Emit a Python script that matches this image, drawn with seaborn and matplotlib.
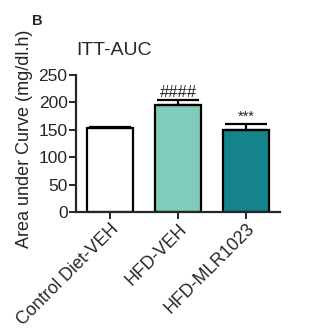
import matplotlib
matplotlib.use("Agg")
import matplotlib.pyplot as plt
import seaborn as sns
import pandas as pd

categories = ["Control Diet-VEH", "HFD-VEH", "HFD-MLR1023"]
means = [153, 195, 150]
sems = [3, 9, 10]
marks = ["", "####", "***"]
mark_sizes = [10, 12, 10.5]
colors = ["#FFFFFF", "#7ECCB9", "#14838C"]
yticks = [0, 50, 100, 150, 200, 250]

sns.set_style("ticks")
plt.rcParams['font.family'] = ['Liberation Sans', 'DejaVu Sans']

df = pd.DataFrame({"group": categories, "auc": means})

fig = plt.figure(figsize=(3.23, 3.33), dpi=100)
ax = fig.add_axes([0.235, 0.363, 0.632, 0.412])

sns.barplot(data=df, x="group", y="auc", hue="group", palette=colors,
            edgecolor="black", linewidth=1.6, width=0.68, legend=False, ax=ax,
            errorbar=None, saturation=1)

ax.errorbar(range(len(categories)), means, yerr=[[0]*3, sems], fmt="none",
            ecolor="black", elinewidth=1.6, capsize=15, capthick=1.6)

for i, (m, s, t, fs) in enumerate(zip(means, sems, marks, mark_sizes)):
    if t:
        ax.text(i, m + s + 0.5, t, ha="center", va="bottom", fontsize=fs)

ax.set_xlim(-0.5, 2.5)
ax.set_ylim(0, 250)
ax.set_yticks(yticks)
ax.set_xlabel("")
ax.set_ylabel("Area under Curve (mg/dl.h)", fontsize=13)
ax.yaxis.set_label_coords(-0.21, 0.533)
ax.set_title("ITT-AUC", fontsize=14, loc="left", x=0.0, pad=14)
ax.tick_params(axis="both", labelsize=12.5, width=1.4, length=5, pad=1)
ax.set_xticks(range(len(categories)))
ax.set_xticklabels(categories, rotation=45, ha="right", rotation_mode="anchor", fontsize=12.8)
for sp in ["left", "bottom"]:
    ax.spines[sp].set_linewidth(1.6)
sns.despine(ax=ax)

fig.text(0.098, 0.925, "B", fontsize=10.5, fontweight="bold")

fig.savefig("out.png", dpi=100)
